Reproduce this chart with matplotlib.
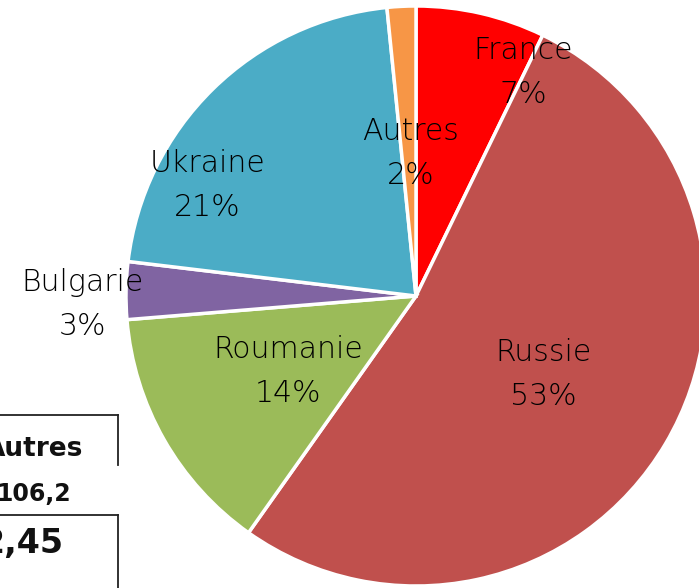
import matplotlib
matplotlib.use("Agg")
import matplotlib.pyplot as plt

# ---- data ----
countries = ["France", "Russie", "Roumanie", "Bulgarie", "Ukraine", "Autres"]
shares = [7.2, 52.6, 13.9, 3.2, 21.5, 1.6]
pct_labels = ["7%", "53%", "14%", "3%", "21%", "2%"]
colors = ["#FF0000", "#C0504D", "#9BBB59", "#8064A2", "#4BACC6", "#F79646"]
# label centers relative to pie center, in radius units (x right, y up)
label_pos = [(0.37, 0.77), (0.44, -0.27), (-0.44, -0.26), (-1.15, -0.03), (-0.72, 0.38), (-0.02, 0.49)]

table_header = "Autres"
table_value = "106,2"
table_total = "2,45"

W, H, DPI = 6.99, 5.88, 100
cx, cy, R = 416, 296, 290  # pixel geometry of the pie

fig = plt.figure(figsize=(W, H), dpi=DPI)
ax = fig.add_axes([0, 0, 1, 1])

ax.pie(shares, colors=colors, startangle=90, counterclock=False,
       radius=1.0, center=(0, 0),
       wedgeprops=dict(edgecolor="white", linewidth=2.5))
ax.set_xlim((0 - cx) / R, (W * DPI - cx) / R)
ax.set_ylim((cy - H * DPI) / R, cy / R)
ax.set_aspect("auto")
ax.axis("off")

for name, pct, (lx, ly) in zip(countries, pct_labels, label_pos):
    ax.text(lx, ly, f"{name}\n{pct}", ha="center", va="center",
            fontsize=21.5, color="#000000", linespacing=1.65,
            family="DejaVu Sans", fontweight="light")

# ---- partial table at bottom-left (pixel coordinates) ----
ax2 = fig.add_axes([0, 0, 1, 1], facecolor="none")
ax2.set_xlim(0, W * DPI)
ax2.set_ylim(H * DPI, 0)
ax2.axis("off")
lc = "#222222"
ax2.plot([0, 118], [415, 415], color=lc, lw=1.3)
ax2.plot([118, 118], [415, 465], color=lc, lw=1.3)
ax2.plot([0, 118], [515, 515], color=lc, lw=1.3)
ax2.plot([118, 118], [515, 590], color=lc, lw=1.3)
ax2.text(83, 449, table_header, ha="right", va="center", fontsize=19,
         fontweight="bold", color="#111111", family="DejaVu Sans")
ax2.text(71, 494, table_value, ha="right", va="center", fontsize=17,
         fontweight="bold", color="#111111", family="DejaVu Sans")
ax2.text(63, 543, table_total, ha="right", va="center", fontsize=24,
         fontweight="bold", color="#111111", family="DejaVu Sans")

fig.savefig("out.png", dpi=DPI)
